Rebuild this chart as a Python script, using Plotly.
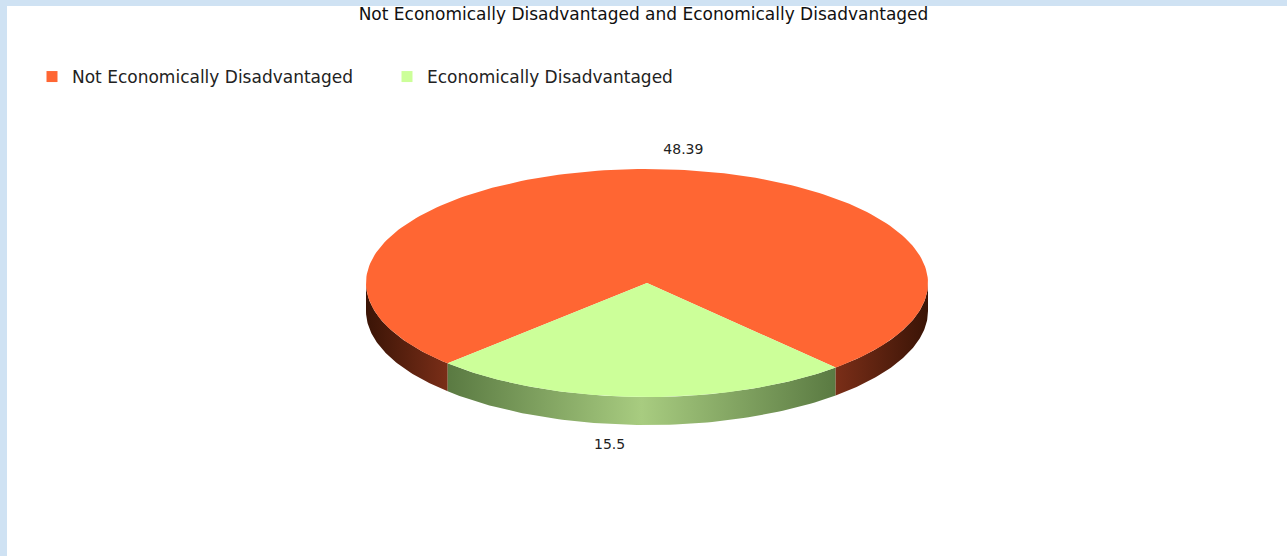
import numpy as np
import plotly.graph_objects as go

title = "Not Economically Disadvantaged and Economically Disadvantaged"
categories = ["Not Economically Disadvantaged", "Economically Disadvantaged"]
values = [48.39, 15.5]
top_colors = ["#ff6633", "#ccff99"]

W, H = 1287, 556
cx, cy, rx, ry, depth = 647, 283, 281, 114, 28
rotation = -1.5
FONT = "DejaVu Sans"

total = sum(values)
g_span = values[1] / total * 360
g_start = 270 + rotation - g_span / 2
g_end = 270 + rotation + g_span / 2
slices = [
    (0, g_end, g_start + 360),
    (1, g_start, g_end),
]


def pt(a, dy=0):
    r = np.radians(a)
    return cx + rx * np.cos(r), cy - ry * np.sin(r) + dy


fig = go.Figure()


def side(a0, a1, scale):
    lo, hi = max(a0, 180), min(a1, 360)
    if hi <= lo:
        return
    ang = np.linspace(lo, hi, 80)
    xs_t, ys_t = zip(*[pt(a) for a in ang])
    xs_b, ys_b = zip(*[pt(a, depth) for a in ang[::-1]])
    xs = list(xs_t) + list(xs_b) + [xs_t[0]]
    ys = list(ys_t) + list(ys_b) + [ys_t[0]]
    fig.add_trace(go.Scatter(
        x=xs, y=ys, mode="lines", fill="toself", line=dict(width=0),
        fillgradient=dict(type="horizontal", colorscale=scale),
        hoverinfo="skip", showlegend=False))


side(180, g_start, [[0, "#3a1406"], [1, "#7a2e18"]])
side(g_start, g_end, [[0, "#5a7a42"], [0.5, "#a8cc80"], [1, "#5a7a42"]])
side(g_end, 360, [[0, "#7a2e18"], [1, "#3a1406"]])

for idx, a0, a1 in slices:
    ang = np.linspace(a0, a1, 200)
    xs, ys = zip(*[pt(a) for a in ang])
    xs = [cx] + list(xs) + [cx]
    ys = [cy] + list(ys) + [cy]
    fig.add_trace(go.Scatter(
        x=xs, y=ys, mode="lines", fill="toself", line=dict(width=0),
        fillcolor=top_colors[idx], hoverinfo="skip", showlegend=False))

for idx, a0, a1 in slices:
    mid = (a0 + a1) / 2
    x, y = pt(mid)
    if np.sin(np.radians(mid)) > 0:
        lx, ly = x + 29, y - 19
    else:
        lx, ly = x - 30, y + depth + 21
    fig.add_trace(go.Scatter(
        x=[lx], y=[ly], mode="text", text=[f"{values[idx]:g}"],
        textfont=dict(family=FONT, size=14, color="#222222"),
        hoverinfo="skip", showlegend=False))

for idx, name in enumerate(categories):
    fig.add_trace(go.Scatter(
        x=[None], y=[None], mode="markers", name=name,
        marker=dict(symbol="square", size=11, color=top_colors[idx])))

fig.update_layout(
    width=W, height=H, autosize=False,
    margin=dict(l=0, r=0, t=0, b=0),
    paper_bgcolor="white", plot_bgcolor="white",
    xaxis=dict(range=[0, W], visible=False, fixedrange=True),
    yaxis=dict(range=[H, 0], visible=False, fixedrange=True),
    title=dict(text=title, x=0.5, xanchor="center", y=1 - 14 / H, yanchor="middle",
               font=dict(family=FONT, size=17, color="#111111")),
    legend=dict(orientation="h", x=32 / W, xanchor="left", y=1 - 77 / H, yanchor="middle",
                font=dict(family=FONT, size=17, color="#222222"),
                bgcolor="rgba(0,0,0,0)", itemwidth=30, entrywidth=310),
    shapes=[
        dict(type="rect", xref="paper", yref="paper", x0=0, x1=1, y0=1 - 6 / H, y1=1,
             fillcolor="#cfe2f3", line=dict(width=0), layer="above"),
        dict(type="rect", xref="paper", yref="paper", x0=0, x1=7 / W, y0=0, y1=1,
             fillcolor="#cfe2f3", line=dict(width=0), layer="above"),
    ],
)

fig.write_html("out.html")
